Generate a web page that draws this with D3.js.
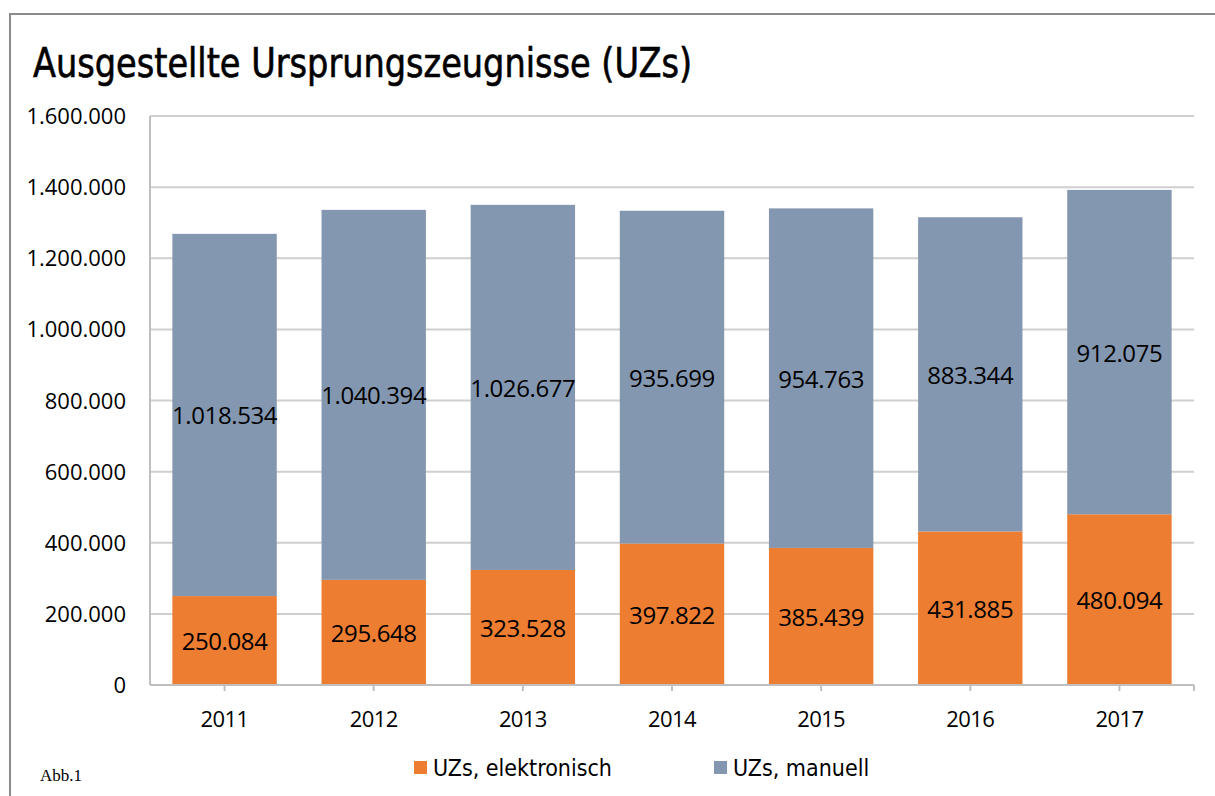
<!DOCTYPE html>
<html><head><meta charset="utf-8">
<script src="https://cdn.jsdelivr.net/npm/d3@7"></script>
<style>body{margin:0;background:#fff;}svg{display:block;}</style>
</head><body>
<svg id="c" width="1215" height="796"></svg>
<script>
const years = ["2011","2012","2013","2014","2015","2016","2017"];
const elektronisch = [250084, 295648, 323528, 397822, 385439, 431885, 480094];
const manuell = [1018534, 1040394, 1026677, 935699, 954763, 883344, 912075];
const yTicks = [0, 200000, 400000, 600000, 800000, 1000000, 1200000, 1400000, 1600000];
const seriesNames = ["UZs, elektronisch", "UZs, manuell"];
const colors = ["#ED7D31", "#8497B0"];

const fmt = v => d3.format(",")(v).replace(/,/g, ".");
const svg = d3.select("#c");
const L = 150, R = 1194, T = 116, B = 685;
const x = d3.scaleBand().domain(years).range([L, R]).paddingInner(0.3).paddingOuter(0.15);
const y = d3.scaleLinear().domain([0, 1600000]).range([B, T]);
const sansC = "'DejaVu Sans Condensed','DejaVu Sans',sans-serif";
const sans = "'Open Sans','Noto Sans',sans-serif";

// outer frame
svg.append("path").attr("d", "M10,796 L10,14 L1215,14").attr("fill","none").attr("stroke","#8c8c8c").attr("stroke-width",2);

// title
svg.append("text").attr("x", 33).attr("y", 77).attr("font-family", sansC).attr("font-size", 40)
  .attr("fill", "#000").attr("stroke", "#000").attr("stroke-width", 0.6)
  .attr("textLength", 659).attr("lengthAdjust","spacingAndGlyphs")
  .text("Ausgestellte Ursprungszeugnisse (UZs)");

// gridlines
svg.append("g").selectAll("line").data(yTicks.filter(d => d > 0)).join("line")
  .attr("x1", L).attr("x2", R).attr("y1", d => y(d)).attr("y2", d => y(d))
  .attr("stroke", "#cfcfcf").attr("stroke-width", 2);

// y axis labels
svg.append("g").selectAll("text").data(yTicks).join("text")
  .attr("x", 126).attr("y", d => y(d) + 8).attr("text-anchor", "end")
  .attr("font-family", sans).attr("font-size", 22).attr("fill", "#000")
  .text(d => fmt(d));

// bars
const stacked = years.map((yr, i) => ({ yr, e: elektronisch[i], m: manuell[i] }));
const g = svg.append("g");
g.selectAll("rect.e").data(stacked).join("rect").attr("class","e")
  .attr("x", d => x(d.yr)).attr("width", x.bandwidth())
  .attr("y", d => y(d.e)).attr("height", d => y(0) - y(d.e)).attr("fill", colors[0]);
g.selectAll("rect.m").data(stacked).join("rect").attr("class","m")
  .attr("x", d => x(d.yr)).attr("width", x.bandwidth())
  .attr("y", d => y(d.e + d.m)).attr("height", d => y(d.e) - y(d.e + d.m)).attr("fill", colors[1]);

// labels in bars
g.selectAll("text.e").data(stacked).join("text").attr("class","e")
  .attr("x", d => x(d.yr) + x.bandwidth()/2).attr("y", d => y(d.e/2) + 9.5)
  .attr("text-anchor","middle").attr("font-family", sans).attr("font-size", 24).attr("letter-spacing", -0.4).attr("fill","#000")
  .text(d => fmt(d.e));
g.selectAll("text.m").data(stacked).join("text").attr("class","m")
  .attr("x", d => x(d.yr) + x.bandwidth()/2).attr("y", d => y(d.e + d.m/2) + 9.5)
  .attr("text-anchor","middle").attr("font-family", sans).attr("font-size", 24).attr("letter-spacing", -0.4).attr("fill","#000")
  .text(d => fmt(d.m));

// axes lines
svg.append("line").attr("x1", L).attr("x2", L).attr("y1", T).attr("y2", B).attr("stroke","#bfbfbf").attr("stroke-width",2);
svg.append("line").attr("x1", L).attr("x2", R).attr("y1", B).attr("y2", B).attr("stroke","#bfbfbf").attr("stroke-width",2);
const tickXs = years.map(yr => x(yr) + x.bandwidth()/2).concat([R]);
svg.append("g").selectAll("line").data(tickXs).join("line")
  .attr("x1", d => d).attr("x2", d => d).attr("y1", B).attr("y2", B + 6).attr("stroke","#bfbfbf").attr("stroke-width",2);

// x labels
svg.append("g").selectAll("text").data(years).join("text")
  .attr("x", d => x(d) + x.bandwidth()/2).attr("y", 727).attr("text-anchor","middle")
  .attr("font-family", sans).attr("font-size", 22).attr("letter-spacing", -0.6).attr("fill","#000").text(d => d);

// legend
const legX = [414, 714];
seriesNames.forEach((n, i) => {
  svg.append("rect").attr("x", legX[i]).attr("y", 761).attr("width", 13).attr("height", 13).attr("fill", colors[i]);
  svg.append("text").attr("x", legX[i] + 19).attr("y", 776).attr("font-family", sansC).attr("font-size", 23)
    .attr("fill","#000").text(n);
});

// Abb.1
svg.append("text").attr("x", 40).attr("y", 781).attr("font-family", "'Liberation Serif','DejaVu Serif',serif")
  .attr("font-size", 17).attr("fill","#000").text("Abb.1");
</script>
</body></html>
